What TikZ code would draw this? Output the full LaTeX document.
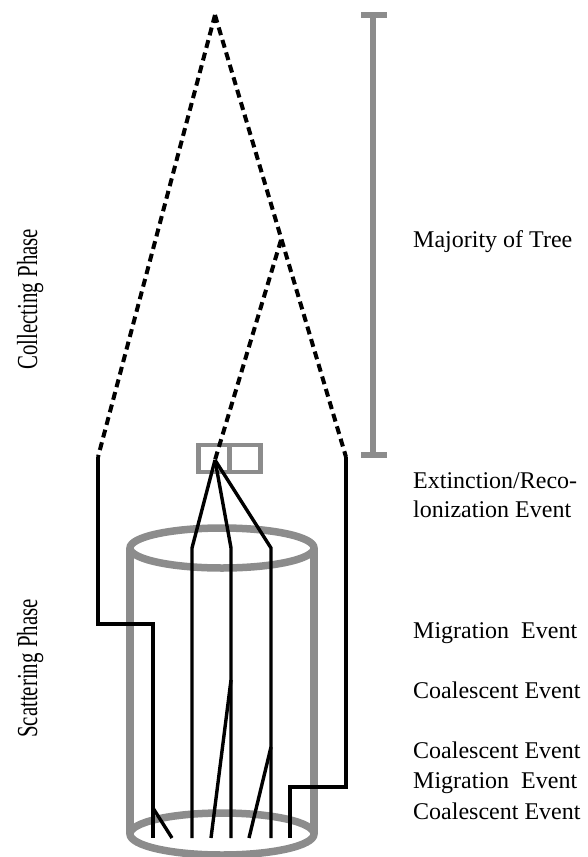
\documentclass[tikz,border=0pt]{standalone}
\usepackage{fontspec}
\setmainfont{Liberation Serif}
\definecolor{cylgray}{RGB}{140,140,140}
\tikzset{
  lineage/.style={line width=3.4pt, black, line join=miter},
  dashlin/.style={line width=4pt, black, dash pattern=on 8pt off 5pt},
  cylwall/.style={line width=7.5pt, cylgray},
  demebox/.style={draw=cylgray, line width=4.5pt, minimum width=31pt, minimum height=27pt, inner sep=0pt},
  scalebar/.style={line width=5.5pt, cylgray},
  evlabel/.style={anchor=base west, inner sep=0pt, font=\fontsize{24}{26}\selectfont},
  phaselabel/.style={anchor=base west, inner sep=0pt, rotate=90, font=\fontsize{29}{31}\selectfont}
}
\begin{document}
\begin{tikzpicture}[x=1pt,y=-1pt]
\useasboundingbox (0,0) rectangle (588,857);
% cylinder
\draw[cylwall] (222,548) ellipse [x radius=92, y radius=20];
\draw[cylwall] (222,834) ellipse [x radius=92, y radius=21];
\draw[cylwall] (130,548) -- (130,834);
\draw[cylwall] (314,548) -- (314,834);
% deme boxes
\node[demebox] (boxA) at (214,458.5) {};
\node[demebox] (boxB) at (245,458.5) {};
% scale bar
\coordinate (sbT) at (373,15);
\coordinate (sbB) at (373,455);
\draw[scalebar] (sbT) -- (sbB);
\draw[scalebar] (361,15) -- (387,15);
\draw[scalebar] (361,455) -- (387,455);
% tree coordinates
\coordinate (apex) at (215,15);
\coordinate (L0) at (98,457);
\coordinate (R0) at (346,457);
\coordinate (mid) at (281,240);
\coordinate (ext) at (215,460);
% dashed collecting phase
\draw[dashlin] (apex) -- (L0);
\draw[dashlin] (apex) -- (R0);
\draw[dashlin] (mid) -- (ext);
% solid scattering phase
\draw[lineage] (L0) -- (98,624) -- (153,624) -- (153,838);
\draw[lineage] (153,808) -- (172,838);
\draw[lineage] (R0) -- (346,787) -- (290,787) -- (290,838);
\draw[lineage] (ext) -- (192,548) -- (192,838);
\draw[lineage] (ext) -- (231,548) -- (231,838);
\draw[lineage] (ext) -- (271,548) -- (271,838);
\draw[lineage] (231,680) -- (211,838);
\draw[lineage] (271,747) -- (249,838);
% labels
\node[phaselabel] (collect) at (37,370) {\scalebox{0.72}[1]{Collecting Phase}};
\node[phaselabel] (scatter) at (37,738) {\scalebox{0.72}[1]{Scattering Phase}};
\node[evlabel] (maj) at (413,247) {Majority of Tree};
\node[evlabel] (ext1) at (413,488) {Extinction/Reco-};
\node[evlabel] (ext2) at (413,517) {lonization Event};
\node[evlabel] (mig1) at (413,638) {Migration\ \ Event};
\node[evlabel] (coal1) at (413,698) {Coalescent Event};
\node[evlabel] (coal2) at (413,758) {Coalescent Event};
\node[evlabel] (mig2) at (413,788) {Migration\ \ Event};
\node[evlabel] (coal3) at (413,819) {Coalescent Event};
\end{tikzpicture}
\end{document}
